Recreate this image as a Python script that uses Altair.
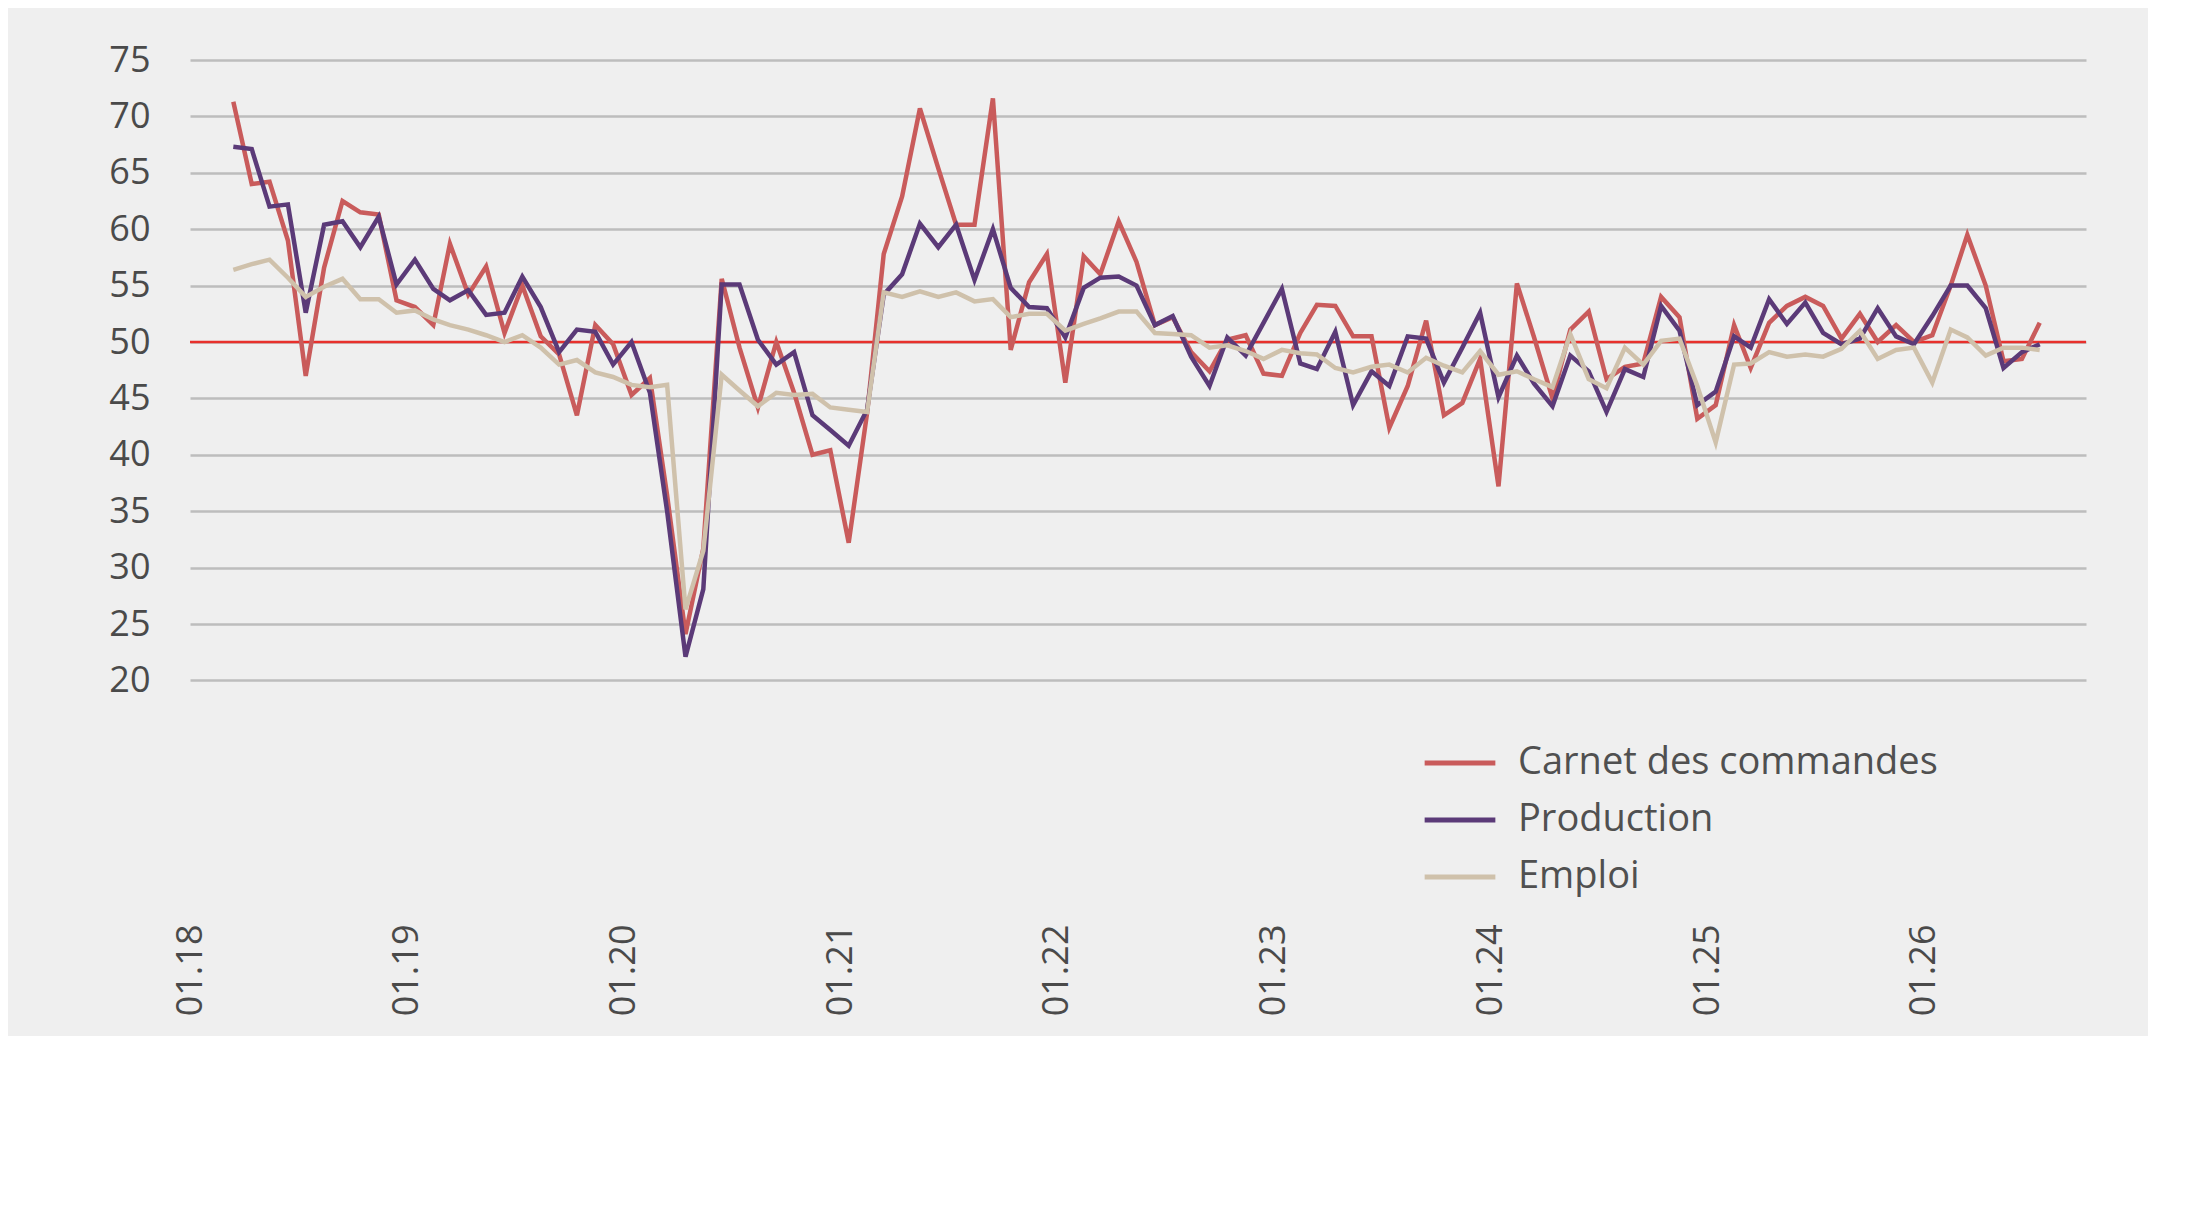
import altair as alt
import pandas as pd

# monthly values, Mar 2018 .. Jul 2026
carnet = [71.3, 64, 64.2, 59, 47, 56.6, 62.5, 61.5, 61.3, 53.7, 53.1, 51.5, 58.7, 54.2, 56.7, 50.8,
          55, 50.5, 48.9, 43.5, 51.5, 49.8, 45.3, 46.8, 36.4, 24.1, 31.7, 55.6, 49.5, 44.2, 50, 45.5,
          40, 40.4, 32.2, 43.7, 57.8, 62.9, 70.7, 65.4, 60.4, 60.4, 71.6, 49.3, 55.3, 57.8, 46.4, 57.6,
          56, 60.7, 57.1, 51.5, 52.2, 49.1, 47.4, 50.2, 50.6, 47.2, 47, 50.8, 53.3, 53.2, 50.5, 50.5,
          42.4, 46.1, 51.9, 43.5, 44.6, 48.5, 37.2, 55.2, 50.4, 45, 51.1, 52.7, 46.7, 47.8, 48.1, 54,
          52.2, 43.2, 44.4, 51.5, 47.7, 51.7, 53.2, 54, 53.2, 50.3, 52.5, 50, 51.5, 50, 50.6, 55,
          59.5, 55, 48.3, 48.5, 51.7]
production = [67.3, 67.1, 62, 62.2, 52.6, 60.4, 60.7, 58.4, 61.1, 55.1, 57.3, 54.7, 53.7, 54.6, 52.4, 52.6,
              55.8, 53.1, 49.1, 51.1, 50.9, 48, 50, 45.5, 35, 22.1, 28.1, 55.1, 55.1, 50.2, 48, 49.1,
              43.5, 42.2, 40.8, 44, 54.2, 56, 60.5, 58.4, 60.4, 55.5, 60, 54.8, 53.1, 53, 50.4, 54.8,
              55.7, 55.8, 55, 51.5, 52.3, 48.7, 46.1, 50.4, 48.8, 51.7, 54.7, 48.1, 47.6, 50.9, 44.4, 47.4,
              46.1, 50.5, 50.3, 46.4, 49.5, 52.6, 45.1, 48.8, 46.3, 44.3, 48.8, 47.4, 43.8, 47.6, 46.9, 53.2,
              51, 44.4, 45.6, 50.5, 49.5, 53.8, 51.6, 53.5, 50.8, 49.8, 50.3, 53, 50.5, 49.8, 52.3, 55,
              55, 53, 47.7, 49.1, 49.8]
emploi = [56.4, 56.9, 57.3, 55.7, 54, 54.9, 55.6, 53.8, 53.8, 52.6, 52.8, 52, 51.5, 51.1, 50.6, 50,
          50.6, 49.5, 48, 48.4, 47.3, 46.9, 46.2, 46, 46.2, 26.3, 31.5, 47.1, 45.7, 44.3, 45.5, 45.3,
          45.4, 44.2, 44, 43.8, 54.4, 54, 54.5, 54, 54.4, 53.6, 53.8, 52.2, 52.5, 52.5, 51, 51.6,
          52.1, 52.7, 52.7, 50.8, 50.7, 50.6, 49.5, 49.7, 49.2, 48.5, 49.3, 49, 48.9, 47.7, 47.3, 47.8,
          48, 47.3, 48.6, 47.9, 47.3, 49.2, 47.1, 47.4, 46.7, 46, 50.7, 46.7, 45.9, 49.5, 48, 50.1,
          50.3, 46.1, 41.1, 48, 48.1, 49.1, 48.7, 48.9, 48.7, 49.4, 51, 48.5, 49.3, 49.5, 46.4, 51.1,
          50.4, 48.8, 49.5, 49.5, 49.3]
series = ["Carnet des commandes", "Production", "Emploi"]
colors = ["#c95b5b", "#5b3a78", "#cfc1ab"]
ticks = [f"{y}-01-01" for y in range(2018, 2027)]

dates = pd.date_range("2018-03-01", periods=len(carnet), freq="MS") + pd.Timedelta(days=14)
rows = []
for name, vals in zip(series, [carnet, production, emploi]):
    for d, v in zip(dates, vals):
        rows.append({"date": d, "value": v, "serie": name})
df = pd.DataFrame(rows)

font = "Open Sans"
bg = "#efefef"

lines = alt.Chart(df).mark_line(strokeWidth=4.5).encode(
    x=alt.X("date:T", title=None,
            scale=alt.Scale(domain=["2018-01-01", "2026-10-01"]),
            axis=alt.Axis(values=ticks, format="%m.%y", labelAngle=-90, labelAlign="right",
                          labelBaseline="middle", grid=False, domain=False, ticks=False,
                          labelFontSize=36, labelColor="#4a4a4a", labelFont=font, labelPadding=18)),
    y=alt.Y("value:Q", title=None,
            scale=alt.Scale(domain=[20, 75], nice=False),
            axis=alt.Axis(values=list(range(20, 80, 5)), grid=True, gridColor="#bdbdbd", gridWidth=2.5,
                          domain=False, ticks=False, labelFontSize=36, labelColor="#4a4a4a",
                          labelFont=font, labelPadding=40)),
    color=alt.Color("serie:N", sort=series,
                    scale=alt.Scale(domain=series, range=colors),
                    legend=alt.Legend(title=None, orient="none", legendX=1222, legendY=655,
                                      symbolType="stroke", symbolSize=5000, symbolStrokeWidth=5,
                                      labelFontSize=38, labelColor="#505050", labelFont=font,
                                      labelLimit=600, rowPadding=0, fillColor=bg, padding=10,
                                      labelOffset=20)),
    order=alt.Order("date:T"),
)

ref = alt.Chart(pd.DataFrame({"y": [50]})).mark_rule(color="#e8302c", strokeWidth=2.5).encode(y="y:Q")

chart = alt.layer(ref, lines).properties(
    width=1896, height=846, padding={"left": 100, "top": 34, "right": 60, "bottom": 20},
    background=bg,
).configure_view(stroke=None)

chart.save("out.html", embed_options={"renderer": "svg", "actions": False})
